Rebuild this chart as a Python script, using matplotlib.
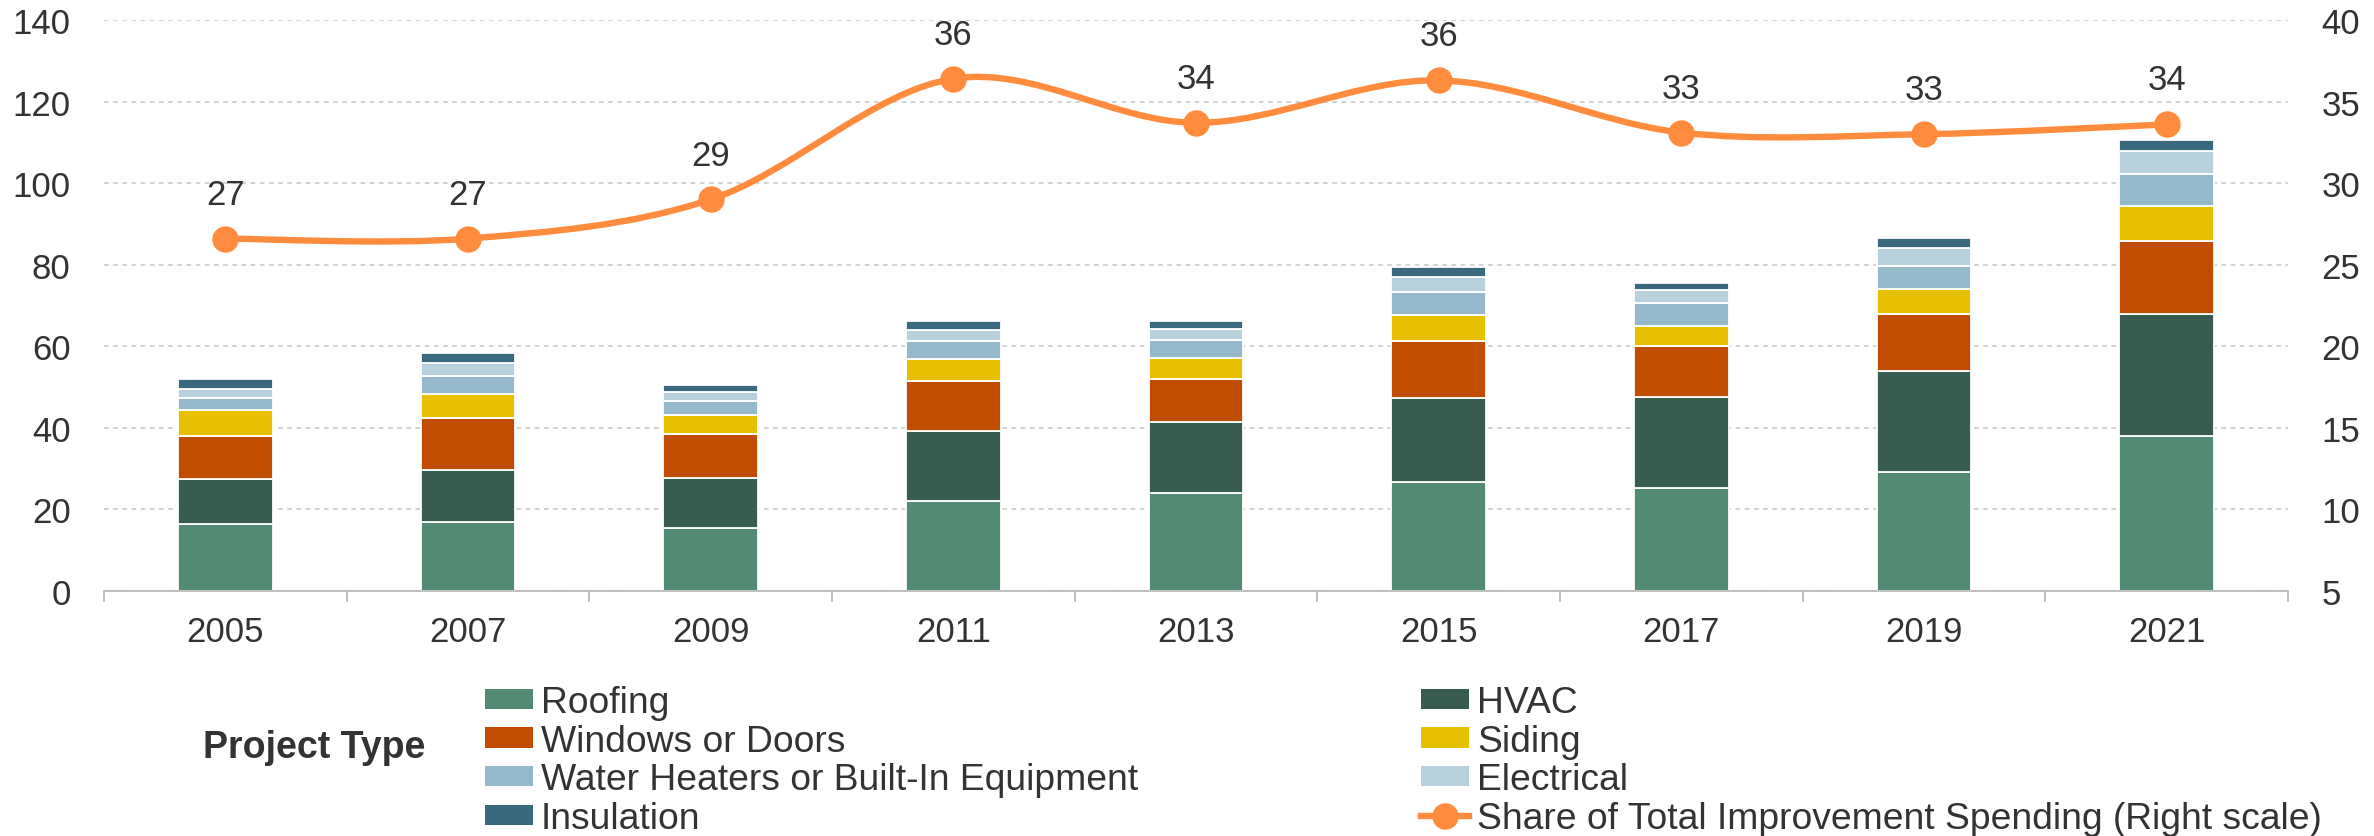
import numpy as np
import matplotlib
matplotlib.use("Agg")
import matplotlib.pyplot as plt
from matplotlib.path import Path
from matplotlib.patches import PathPatch, Patch
from matplotlib.lines import Line2D

plt.rcParams['font.family'] = ['Liberation Sans', 'DejaVu Sans']

years = ['2005', '2007', '2009', '2011', '2013', '2015', '2017', '2019', '2021']

# spending by project type (billions of dollars)
roofing = [16.5, 16.9, 15.5, 22.1, 24.1, 26.8, 25.3, 29.2, 38.1]
hvac = [10.9, 12.8, 12.3, 17.2, 17.3, 20.6, 22.2, 24.8, 29.9]
windows = [10.6, 12.6, 10.8, 12.3, 10.7, 14.0, 12.6, 13.9, 17.8]
siding = [6.4, 6.1, 4.6, 5.2, 5.0, 6.3, 4.8, 6.1, 8.6]
water_heaters = [2.9, 4.4, 3.3, 4.6, 4.5, 5.7, 5.6, 5.7, 7.9]
electrical = [2.2, 3.2, 2.4, 2.6, 2.7, 3.6, 3.2, 4.5, 5.6]
insulation = [2.6, 2.3, 1.6, 2.1, 1.8, 2.5, 1.9, 2.3, 2.7]

# share of total improvement spending (percent)
share = [26.6, 26.6, 29.0, 36.4, 33.7, 36.3, 33.1, 33.0, 33.6]

series = [
    ('Roofing', roofing, '#538a74'),
    ('HVAC', hvac, '#385c4f'),
    ('Windows or Doors', windows, '#c04d01'),
    ('Siding', siding, '#e8c002'),
    ('Water Heaters or Built-In Equipment', water_heaters, '#95b9ca'),
    ('Electrical', electrical, '#b8d1dc'),
    ('Insulation', insulation, '#3a687c'),
]
line_color = '#ff8b3e'
text_color = '#333333'


def smooth_path(xs, ys):
    # cubic bezier through every point, tangents from neighbouring points
    pts = np.column_stack([xs, ys]).astype(float)
    n = len(pts)
    verts = [pts[0]]
    codes = [Path.MOVETO]
    for i in range(n - 1):
        p0 = pts[max(i - 1, 0)]
        p1 = pts[i]
        p2 = pts[i + 1]
        p3 = pts[min(i + 2, n - 1)]
        c1 = p1 + (p2 - p0) / 6.0
        c2 = p2 - (p3 - p1) / 6.0
        verts += [c1, c2, p2]
        codes += [Path.CURVE4] * 3
    return Path(verts, codes)


fig = plt.figure(figsize=(23.74, 8.37), dpi=100)
ax = fig.add_axes([104 / 2374, 1 - 592 / 837, (2288 - 104) / 2374, (592 - 21) / 837])
ax2 = ax.twinx()

x = np.arange(len(years))
bottom = np.zeros(len(years))
for name, vals, color in series:
    ax.bar(x, vals, width=0.39, bottom=bottom, color=color,
           edgecolor='white', linewidth=1.3, zorder=3)
    bottom += np.array(vals)

ax.set_xlim(-0.5, len(years) - 0.5)
ax.set_ylim(0, 140)
ax.set_yticks(range(0, 141, 20))
ax.set_xticks(x)
ax.set_xticklabels(years)
ax.set_xticks(np.arange(-0.5, len(years), 1), minor=True)
ax.tick_params(axis='x', which='major', length=0, pad=17, labelsize=25, labelcolor=text_color)
ax.tick_params(axis='x', which='minor', length=8, width=1.4, color='#bfbfbf', direction='out')
ax.tick_params(axis='y', length=0, pad=24, labelsize=25, labelcolor=text_color)
ax.grid(axis='y', linestyle=(0, (3, 3)), color='#c8c8c8', linewidth=1.1, zorder=0)
ax.set_axisbelow(True)
for side in ['top', 'left', 'right']:
    ax.spines[side].set_visible(False)
ax.spines['bottom'].set_color('#bfbfbf')
ax.spines['bottom'].set_linewidth(1.4)
ax.spines['bottom'].set_zorder(4)

ax2.set_ylim(5, 40)
ax2.set_yticks(range(5, 41, 5))
ax2.tick_params(axis='y', length=0, pad=24, labelsize=25, labelcolor=text_color)
for side in ['top', 'left', 'right', 'bottom']:
    ax2.spines[side].set_visible(False)

ax2.add_patch(PathPatch(smooth_path(x, share), facecolor='none', edgecolor=line_color,
                        linewidth=4.6, capstyle='round', zorder=5))
ax2.plot(x, share, linestyle='none', marker='o', markersize=18,
         color=line_color, zorder=6)
for xi, v in zip(x, share):
    ax2.annotate(f'{v:.0f}', (xi, v), xytext=(0, 32), textcoords='offset points',
                 ha='center', va='center', fontsize=25, color=text_color)

# legend: two columns plus a bold title on the left
handles = {name: Patch(facecolor=color, edgecolor='none') for name, _, color in series}
line_handle = Line2D([], [], color=line_color, linewidth=4.6, marker='o', markersize=18)

col1 = ['Roofing', 'Windows or Doors', 'Water Heaters or Built-In Equipment', 'Insulation']
col2 = ['HVAC', 'Siding', 'Electrical']

leg_kw = dict(loc='upper left', frameon=False, fontsize=26.8, borderpad=0, borderaxespad=0,
              handlelength=1.3, handleheight=0.47, handletextpad=0.2,
              labelspacing=0.1, labelcolor=text_color)
leg1 = fig.legend([handles[n] for n in col1], col1,
                  bbox_to_anchor=(485 / 2374, 1 - 686 / 837), **leg_kw)
leg2 = fig.legend([handles[n] for n in col2] + [line_handle],
                  col2 + ['Share of Total Improvement Spending (Right scale)'],
                  bbox_to_anchor=(1421 / 2374, 1 - 686 / 837), **leg_kw)

fig.text(203 / 2374, 1 - 748 / 837, 'Project Type', fontsize=27, fontweight='bold',
         color=text_color, ha='left', va='center')

fig.savefig('out.png', dpi=100)
